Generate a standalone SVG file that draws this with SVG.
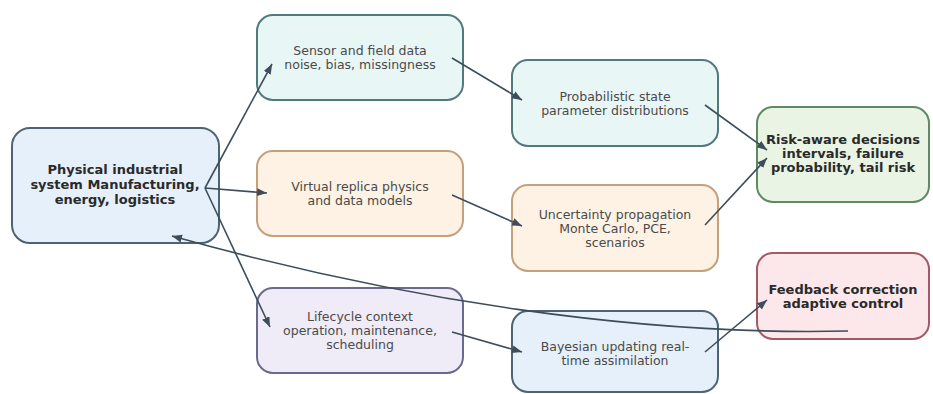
<svg xmlns="http://www.w3.org/2000/svg" width="933" height="394" viewBox="0 0 933 394">
<defs>
<marker id="arr" markerUnits="userSpaceOnUse" markerWidth="12" markerHeight="10" refX="10" refY="4" orient="auto">
<path d="M0,0 L10,4 L0,8 Z" fill="#3d4d5a"/>
</marker>
<style>
.box{stroke-width:2}
.t{font-family:"DejaVu Sans","Liberation Sans",sans-serif;font-size:12.5px;fill:#4a4a4a;text-anchor:middle}
.b{font-family:"DejaVu Sans","Liberation Sans",sans-serif;font-size:13px;font-weight:bold;fill:#2a2a2a;text-anchor:middle}
.e{fill:none;stroke:#3d4d5a;stroke-width:1.6;marker-end:url(#arr)}
.blue{fill:#e6f0fa;stroke:#4d6475}
.cyan{fill:#e9f6f6;stroke:#517a7c}
.green{fill:#e9f4e5;stroke:#5f8a62}
.orange{fill:#fdf2e4;stroke:#c4a07c}
.pink{fill:#fce7eb;stroke:#a35a67}
.lav{fill:#efecf7;stroke:#6c6990}
</style>
</defs>
<rect width="933" height="394" fill="#ffffff"/>
<g id="physical">
<rect class="box blue" x="12" y="128" width="207" height="115" rx="18"/>
<text class="b" x="115" y="174">Physical industrial</text>
<text class="b" x="115" y="189">system Manufacturing,</text>
<text class="b" x="115" y="204">energy, logistics</text>
</g>
<g id="sensor">
<rect class="box cyan" x="257" y="15" width="206" height="85" rx="16"/>
<text class="t" x="360" y="55">Sensor and field data</text>
<text class="t" x="360" y="69">noise, bias, missingness</text>
</g>
<g id="probabilistic">
<rect class="box cyan" x="512" y="60" width="206" height="86" rx="16"/>
<text class="t" x="615" y="101">Probabilistic state</text>
<text class="t" x="615" y="115">parameter distributions</text>
</g>
<g id="risk">
<rect class="box green" x="757" y="107" width="172" height="95" rx="16"/>
<text class="b" x="843" y="144">Risk-aware decisions</text>
<text class="b" x="843" y="158">intervals, failure</text>
<text class="b" x="843" y="172">probability, tail risk</text>
</g>
<g id="virtual">
<rect class="box orange" x="257" y="151" width="206" height="85" rx="16"/>
<text class="t" x="360" y="191">Virtual replica physics</text>
<text class="t" x="360" y="205">and data models</text>
</g>
<g id="uncertainty">
<rect class="box orange" x="512" y="185" width="206" height="86" rx="16"/>
<text class="t" x="615" y="219">Uncertainty propagation</text>
<text class="t" x="615" y="233">Monte Carlo, PCE,</text>
<text class="t" x="615" y="247">scenarios</text>
</g>
<g id="feedback">
<rect class="box pink" x="757" y="253" width="172" height="86" rx="16"/>
<text class="b" x="843" y="294">Feedback correction</text>
<text class="b" x="843" y="308">adaptive control</text>
</g>
<g id="lifecycle">
<rect class="box lav" x="257" y="288" width="206" height="85" rx="16"/>
<text class="t" x="360" y="321">Lifecycle context</text>
<text class="t" x="360" y="335">operation, maintenance,</text>
<text class="t" x="360" y="349">scheduling</text>
</g>
<g id="bayesian">
<rect class="box blue" x="512" y="311" width="206" height="81" rx="16"/>
<text class="t" x="615" y="351">Bayesian updating real-</text>
<text class="t" x="615" y="365">time assimilation</text>
</g>
<g id="connectors">
<path class="e" d="M205,188 L272,64"/>
<path class="e" d="M205,188 L267,193"/>
<path class="e" d="M205,188 L270,327"/>
<path class="e" d="M452,58 L522,100"/>
<path class="e" d="M452,195 L522,226"/>
<path class="e" d="M452,332 L522,352"/>
<path class="e" d="M705,105 L767,150"/>
<path class="e" d="M705,225 L767,158"/>
<path class="e" d="M705,352 L767,300"/>
<path class="e" d="M848,331 C640,336 400,300 172,236"/>
</g>
</svg>
